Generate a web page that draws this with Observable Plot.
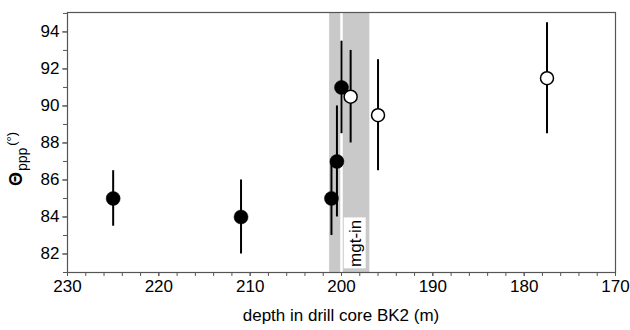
<!DOCTYPE html>
<html>
<head>
<meta charset="utf-8">
<script src="https://cdn.jsdelivr.net/npm/d3@7"></script>
<script src="https://cdn.jsdelivr.net/npm/@observablehq/plot@0.6"></script>
<style>
  html, body { margin: 0; padding: 0; background: #fff; }
  svg { font-family: "Liberation Sans", Arial, Helvetica, sans-serif; }
</style>
</head>
<body>
<div id="chart"></div>
<script>
// Data
const depthFilled = [225, 211, 201.1, 200.5, 200.0];
const thetaFilled = [85, 84, 85, 87, 91];
const errFilled   = [1.5, 2, 2, 3, 2.5];

const depthOpen = [199.0, 196.0, 177.5];
const thetaOpen = [90.5, 89.5, 91.5];
const errOpen   = [2.5, 3, 3];

// mgt-in band (depth range) and line
const bandStart = 201.3, bandEnd = 196.9, bandLine = 200.0;
const bandLabel = "mgt-in";

const xTicks = [230, 220, 210, 200, 190, 180, 170];
const yTicks = [82, 84, 86, 88, 90, 92, 94];
const xMinor = d3.range(170, 231, 2);
const yMinor = d3.range(81, 96, 1);

const filled = depthFilled.map((d, i) => ({depth: d, theta: thetaFilled[i], lo: thetaFilled[i] - errFilled[i], hi: thetaFilled[i] + errFilled[i]}));
const open = depthOpen.map((d, i) => ({depth: d, theta: thetaOpen[i], lo: thetaOpen[i] - errOpen[i], hi: thetaOpen[i] + errOpen[i]}));

const axisColor = "#555";
const fs = 17;

const chart = Plot.plot({
  width: 630,
  height: 330,
  marginLeft: 67,
  marginRight: 15,
  marginTop: 12,
  marginBottom: 58,
  style: {fontFamily: "'Liberation Sans', Arial, sans-serif", fontSize: fs + "px", color: "#000", background: "#fff"},
  x: {domain: [230, 170], label: null},
  y: {domain: [81, 95.05], label: null},
  marks: [
    Plot.rect([{a: bandStart, b: bandEnd}], {x1: "a", x2: "b", y1: 81, y2: 95.05, fill: "#c9c9c9"}),
    Plot.ruleX([bandLine], {stroke: "#fff", strokeWidth: 2.5}),
    Plot.rect([{a: 199.7, b: 197.3, lo: 81.2, hi: 83.95}], {x1: "a", x2: "b", y1: "lo", y2: "hi", fill: "#fff"}),
    Plot.text([{x: (199.7 + 197.3) / 2, y: (81.2 + 83.95) / 2, t: bandLabel}], {x: "x", y: "y", text: "t", rotate: -90, fontSize: 17, fill: "#000", textAnchor: "middle", lineAnchor: "middle"}),
    Plot.frame({stroke: axisColor, strokeWidth: 1.2}),
    Plot.axisX({ticks: xMinor, tickSize: 4, stroke: axisColor, text: null}),
    Plot.axisX({ticks: xTicks, tickSize: 4, tickPadding: 3, stroke: axisColor, fontSize: fs, label: null}),
    Plot.axisY({ticks: yMinor, tickSize: 4, stroke: axisColor, text: null}),
    Plot.axisY({ticks: yTicks, tickSize: 5, tickPadding: 3, stroke: axisColor, fontSize: fs, label: null}),
    Plot.ruleX(filled, {x: "depth", y1: "lo", y2: "hi", stroke: "#000", strokeWidth: 2}),
    Plot.ruleX(open, {x: "depth", y1: "lo", y2: "hi", stroke: "#000", strokeWidth: 2}),
    Plot.dot(filled, {x: "depth", y: "theta", r: 7, fill: "#000", stroke: "#000", strokeWidth: 0.5}),
    Plot.dot(open, {x: "depth", y: "theta", r: 6.5, fill: "#fff", stroke: "#000", strokeWidth: 1.5})
  ]
});

const svg = d3.select(chart);
// x-axis title
svg.append("text")
  .attr("x", 67 + (630 - 67 - 15) / 2)
  .attr("y", 321)
  .attr("text-anchor", "middle")
  .attr("font-size", 17)
  .attr("fill", "#000")
  .text("depth in drill core BK2 (m)");

// y-axis title: Θppp (°)
const yt = svg.append("text")
  .attr("transform", "translate(22,159) rotate(-90)")
  .attr("text-anchor", "middle")
  .attr("fill", "#000");
yt.append("tspan").attr("font-size", 18).attr("font-weight", "bold").text("Θ");
yt.append("tspan").attr("font-size", 14).attr("dy", 5).attr("dx", 1).text("ppp");
yt.append("tspan").attr("font-size", 13).attr("dy", -11).attr("dx", 2).text("(°)");

document.getElementById("chart").appendChild(chart);
</script>
</body>
</html>
